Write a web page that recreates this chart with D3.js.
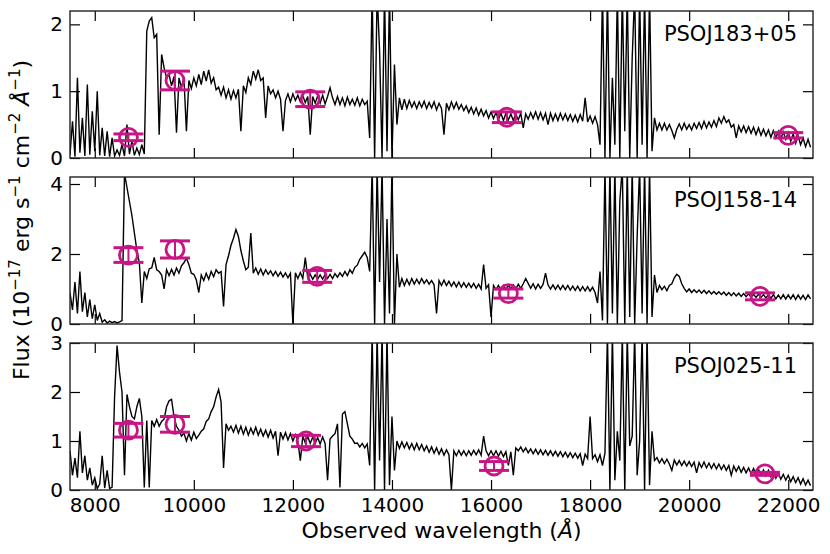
<!DOCTYPE html>
<html>
<head>
<meta charset="utf-8">
<script src="https://cdn.jsdelivr.net/npm/d3@7"></script>
<style>
  body { margin: 0; background: #fff; }
  text { font-family: "DejaVu Sans", sans-serif; fill: #000; }
</style>
</head>
<body>
<svg id="chart" width="830" height="554"></svg>
<script>
// spectra sampled every 50 A from 7500 A
const waveStart = 7500
const waveStep = 50

const flux183 = [
  0.05,0.55,0.02,1.2,0.08,0.6,0.03,1.1,0.05,0.7,0.1,1.0,0.04,0.45,0.03,0.4,0.02,0.3,0.03,0.12,
  0.04,0.2,0.03,0.5,0.06,0.25,0.04,0.15,0.05,0.2,0.06,1.9,2.05,2.1,1.8,1.85,0.35,1.55,1.35,1.2,
  1.25,1.08,1.22,0.38,1.2,1.06,1.2,0.4,1.16,1.04,1.2,1.08,1.25,1.1,1.3,1.15,1.32,1.12,1.2,1.02,
  1.06,0.94,1.06,0.9,1.02,0.88,1.01,0.9,1.03,0.4,1.08,0.98,1.2,1.1,1.3,1.18,1.32,1.16,1.2,0.6,
  1.08,0.96,1.02,0.9,1.0,0.88,0.4,0.86,0.96,0.84,0.96,0.86,0.94,0.84,0.93,0.83,0.92,0.35,0.92,0.82,
  0.93,0.82,0.94,0.81,0.92,1.05,0.9,0.8,0.92,0.8,0.9,0.78,0.91,0.8,0.88,0.79,0.9,0.78,0.88,0.8,
  0.85,0.3,2.5,0.0,2.5,1.6,0.0,2.5,0.1,2.5,0.0,1.4,0.5,0.9,0.72,0.88,0.74,0.86,0.76,0.84,
  0.74,0.84,0.76,0.85,0.74,0.83,0.75,0.84,0.72,0.82,0.74,0.35,0.82,0.72,0.84,0.74,0.83,0.73,0.8,0.71,
  0.78,0.68,0.76,0.66,0.75,0.64,0.73,0.63,0.71,0.6,0.69,0.59,0.68,0.58,0.67,0.56,0.67,0.57,0.66,0.56,
  0.66,0.57,0.67,0.45,0.66,0.58,0.68,0.59,0.69,0.58,0.68,0.57,0.67,0.5,0.67,0.56,0.66,0.56,0.67,0.57,
  0.66,0.56,0.65,0.55,0.64,0.54,0.65,0.55,0.9,0.54,0.63,0.52,0.62,0.5,0.2,2.5,0.0,2.5,0.0,1.2,
  0.2,2.5,0.0,2.5,0.4,2.5,0.0,1.5,2.5,0.0,2.5,0.2,2.5,0.0,2.5,0.1,0.6,0.42,0.52,0.42,
  0.52,0.42,0.5,0.41,0.3,0.43,0.51,0.42,0.52,0.43,0.5,0.42,0.52,0.44,0.53,0.44,0.55,0.45,0.54,0.46,
  0.56,0.47,0.6,0.52,0.62,0.53,0.57,0.46,0.5,0.3,0.48,0.39,0.48,0.38,0.47,0.37,0.46,0.35,0.45,0.34,
  0.43,0.33,0.42,0.31,0.41,0.3,0.4,0.29,0.39,0.28,0.38,0.25,0.36,0.22,0.33,0.2,0.3,0.17,0.28,0.16
]

const flux158 = [
  0.9,0.4,1.2,0.3,1.5,0.35,0.9,0.2,0.7,0.15,0.55,0.1,0.3,0.05,0.12,0.03,0.08,0.04,0.07,0.03,
  0.06,0.1,4.3,3.9,3.5,3.1,2.6,2.1,1.75,0.6,1.5,1.3,1.58,1.6,1.9,1.55,1.5,1.4,1.0,1.55,
  1.38,1.56,1.4,1.6,1.45,1.66,1.75,1.88,1.7,1.45,1.42,1.26,0.9,1.4,1.24,1.45,1.28,1.5,1.35,1.55,
  1.45,1.5,0.5,1.7,1.95,2.25,2.45,2.7,2.5,2.1,1.8,1.55,1.62,2.6,1.45,1.6,1.42,1.57,1.4,1.55,
  1.42,1.52,1.38,1.5,1.36,1.48,1.34,1.46,1.32,1.45,0.0,1.46,1.3,1.47,1.3,1.9,1.32,1.42,1.28,1.4,
  1.28,1.4,1.28,1.41,1.3,1.42,1.3,1.44,1.34,1.46,1.36,1.5,1.38,1.55,1.45,1.62,1.68,1.85,1.95,2.05,
  1.9,1.5,4.5,0.0,4.5,1.2,4.5,0.0,3.0,0.3,4.5,0.0,2.0,1.05,1.3,1.1,1.28,1.12,1.3,1.14,
  1.28,1.15,1.3,1.16,1.26,1.14,1.24,1.12,0.3,1.24,1.1,1.25,1.1,1.22,1.08,1.2,1.06,1.2,1.05,1.18,
  1.05,1.17,1.04,1.16,1.02,1.14,1.0,1.7,1.02,1.12,0.2,1.1,0.98,1.1,0.97,1.1,0.98,1.11,1.0,1.12,
  1.0,1.14,1.02,1.15,1.3,1.16,1.02,1.15,1.0,1.14,1.02,1.13,1.45,1.12,1.0,1.12,0.99,1.11,0.98,1.1,
  0.98,1.1,0.97,1.08,0.96,1.08,0.95,1.07,0.95,1.07,0.94,1.05,0.9,0.6,1.5,0.1,4.5,0.0,4.5,0.3,
  4.5,0.0,3.5,4.5,0.0,4.5,0.2,4.5,0.0,2.5,4.5,0.3,4.5,0.0,4.5,0.2,1.4,0.9,1.1,0.98,
  1.08,0.95,1.1,1.15,1.32,1.42,1.36,1.15,1.02,0.92,1.0,0.9,0.98,0.9,0.97,0.88,0.96,0.87,0.95,0.86,
  0.93,0.85,0.92,0.84,0.91,0.82,0.9,0.81,0.89,0.8,0.88,0.79,0.87,0.78,0.86,0.77,0.85,0.76,0.85,0.76,
  0.84,0.74,0.85,0.73,0.84,0.72,0.83,0.72,0.84,0.71,0.83,0.72,0.84,0.7,0.83,0.71,0.82,0.7,0.83,0.72
]

const flux025 = [
  0.8,0.3,0.65,0.25,1.2,0.35,0.7,0.2,0.45,0.1,0.25,0.03,0.12,0.7,0.04,0.4,0.03,0.06,1.9,2.95,
  2.4,2.0,0.3,1.95,1.7,1.5,1.45,1.7,1.87,1.5,0.05,1.42,0.05,1.42,1.3,1.44,1.3,1.4,1.45,1.7,
  1.82,1.85,1.5,1.3,1.22,1.1,1.16,1.0,1.15,1.02,1.18,1.05,1.12,1.2,1.25,1.4,1.45,1.6,1.7,1.9,
  2.05,1.8,0.45,1.35,1.22,1.3,1.18,1.32,1.16,1.3,1.14,1.28,1.12,1.26,1.14,1.28,1.12,1.24,1.1,1.22,
  1.08,1.22,1.06,1.2,0.7,1.18,1.04,1.17,1.02,1.15,1.0,1.13,0.99,0.6,1.1,0.96,1.09,0.95,1.08,0.95,
  1.07,0.94,1.08,0.95,0.2,1.04,1.1,1.15,1.35,0.05,1.55,1.6,1.35,1.1,1.04,0.95,0.96,0.88,0.95,0.86,
  0.94,0.5,3.2,0.0,3.2,0.6,3.2,0.0,3.2,0.1,1.5,0.4,1.0,0.85,0.98,0.86,0.97,0.84,0.95,0.82,
  0.95,0.82,0.93,0.8,0.9,0.77,0.88,0.75,0.86,0.73,0.84,0.71,0.82,0.72,0.0,0.8,0.7,0.81,0.71,0.8,
  0.7,0.8,0.71,0.81,0.72,0.82,0.71,1.1,0.8,0.7,0.8,0.7,0.8,0.69,0.79,0.68,0.78,0.5,0.78,0.3,
  0.86,0.8,0.88,0.78,0.86,0.76,0.84,0.74,0.83,0.73,0.82,0.72,0.81,0.71,0.8,0.7,0.79,0.69,0.78,0.68,
  0.77,0.67,0.76,0.66,0.75,0.65,0.74,0.5,0.73,0.64,1.5,0.64,0.72,0.58,0.72,0.5,0.75,3.2,0.0,3.2,
  0.2,1.2,0.6,3.2,0.0,3.2,0.9,1.1,3.2,0.3,1.0,3.2,0.0,3.2,0.1,1.2,0.6,0.66,0.55,0.64,
  0.54,0.63,0.53,0.4,0.61,0.51,0.6,0.5,0.59,0.49,0.58,0.48,0.57,0.35,0.56,0.46,0.57,0.45,0.55,0.44,
  0.54,0.43,0.53,0.42,0.51,0.4,0.5,0.3,0.49,0.38,0.48,0.36,0.46,0.35,0.45,0.33,0.44,0.31,0.42,0.3,
  0.41,0.29,0.4,0.27,0.37,0.24,0.35,0.22,0.32,0.2,0.3,0.17,0.27,0.15,0.25,0.12,0.23,0.1,0.2,0.09
]

// photometry (wavelength, flux, error)
const photWave183 = [8680, 9620, 12350, 16320, 22000]
const photFlux183 = [0.31, 1.16, 0.88, 0.61, 0.34]
const photErr183 = [0.05, 0.14, 0.11, 0.08, 0.04]

const photWave158 = [8680, 9620, 12490, 16350, 21430]
const photFlux158 = [1.97, 2.13, 1.36, 0.87, 0.79]
const photErr158 = [0.21, 0.245, 0.17, 0.13, 0.1]

const photWave025 = [8680, 9620, 12265, 16060, 21530]
const photFlux025 = [1.22, 1.34, 1.0, 0.49, 0.33]
const photErr025 = [0.14, 0.16, 0.115, 0.09, 0.03]

const names = ["PSOJ183+05", "PSOJ158-14", "PSOJ025-11"]
const yMax = [2.2, 4.2, 3]
const yTicks = [[0, 1, 2], [0, 2, 4], [0, 1, 2, 3]]
const xTicks = [8000, 10000, 12000, 14000, 16000, 18000, 20000, 22000]

const spectra = [flux183, flux158, flux025]
const phot = [
  { wave: photWave183, flux: photFlux183, err: photErr183 },
  { wave: photWave158, flux: photFlux158, err: photErr158 },
  { wave: photWave025, flux: photFlux025, err: photErr025 }
]

const svg = d3.select("#chart")
const left = 70, right = 813
const tops = [11, 177, 343]
const panelH = 147
const magenta = "#c71585"

const x = d3.scaleLinear().domain([7500, 22500]).range([left, right])

spectra.forEach((flux, p) => {
  const top = tops[p], bottom = top + panelH
  const y = d3.scaleLinear().domain([0, yMax[p]]).range([bottom, top])
  const g = svg.append("g")

  g.append("clipPath").attr("id", "clip" + p)
    .append("rect").attr("x", left).attr("y", top)
    .attr("width", right - left).attr("height", panelH)

  const pts = flux.map((f, i) => [waveStart + waveStep * i, f])
  g.append("path")
    .datum(pts)
    .attr("clip-path", `url(#clip${p})`)
    .attr("fill", "none")
    .attr("stroke", "#000")
    .attr("stroke-width", 1.4)
    .attr("d", d3.line().x(d => x(d[0])).y(d => y(d[1])))

  // photometry markers
  const ph = phot[p]
  const m = g.selectAll(".phot").data(ph.wave.map((w, i) => ({ w, f: ph.flux[i], e: ph.err[i] })))
    .enter().append("g")
  m.append("line")
    .attr("x1", d => x(d.w)).attr("x2", d => x(d.w))
    .attr("y1", d => y(d.f - d.e)).attr("y2", d => y(d.f + d.e))
    .attr("stroke", magenta).attr("stroke-width", 2)
  ;[-1, 1].forEach(s => {
    m.append("line")
      .attr("x1", d => x(d.w) - 15).attr("x2", d => x(d.w) + 15)
      .attr("y1", d => y(d.f + s * d.e)).attr("y2", d => y(d.f + s * d.e))
      .attr("stroke", magenta).attr("stroke-width", 3)
  })
  m.append("circle")
    .attr("cx", d => x(d.w)).attr("cy", d => y(d.f)).attr("r", 9)
    .attr("fill", "none").attr("stroke", magenta).attr("stroke-width", 2.8)

  // axes, ticks pointing inward on all four sides
  const fmt = d3.format("d")
  const axL = d3.axisLeft(y).tickValues(yTicks[p]).tickSize(-10).tickPadding(7).tickFormat(fmt)
  const axR = d3.axisRight(y).tickValues(yTicks[p]).tickSize(-10).tickFormat("")
  const axT = d3.axisTop(x).tickValues(xTicks).tickSize(-10).tickFormat("")
  const axB = d3.axisBottom(x).tickValues(xTicks).tickSize(-10).tickPadding(8)
    .tickFormat(p < 2 ? "" : fmt)

  const axes = [
    [axL, `translate(${left},0)`],
    [axR, `translate(${right},0)`],
    [axT, `translate(0,${top})`],
    [axB, `translate(0,${bottom})`]
  ]
  axes.forEach(([ax, tr]) => {
    const a = g.append("g").attr("transform", tr).call(ax)
    a.select(".domain").remove()
    a.selectAll("line").attr("stroke", "#000").attr("stroke-width", 1.2)
    a.selectAll("text").attr("font-size", 20).attr("font-family", "DejaVu Sans").attr("fill", "#000")
  })

  g.append("rect")
    .attr("x", left).attr("y", top)
    .attr("width", right - left).attr("height", panelH)
    .attr("fill", "none").attr("stroke", "#222").attr("stroke-width", 1.4)

  g.append("text")
    .attr("x", 797).attr("y", top + 30)
    .attr("text-anchor", "end")
    .attr("font-size", 21)
    .text(names[p])
})

// axis labels
svg.append("text")
  .attr("x", (left + right) / 2).attr("y", 538)
  .attr("text-anchor", "middle")
  .attr("font-size", 22)
  .html('Observed wavelength (<tspan font-style="italic">Å</tspan>)')

const yl = svg.append("text")
  .attr("transform", "translate(29,220) rotate(-90)")
  .attr("text-anchor", "middle")
  .attr("font-size", 22)
yl.append("tspan").text("Flux (10")
yl.append("tspan").attr("font-size", 15).attr("dy", -9).text("−17")
yl.append("tspan").attr("dy", 9).text(" erg s")
yl.append("tspan").attr("font-size", 15).attr("dy", -9).text("−1")
yl.append("tspan").attr("dy", 9).text(" cm")
yl.append("tspan").attr("font-size", 15).attr("dy", -9).text("−2")
yl.append("tspan").attr("dy", 9).attr("font-style", "italic").text(" Å")
yl.append("tspan").attr("font-size", 15).attr("dy", -9).text("−1")
yl.append("tspan").attr("dy", 9).text(")")
</script>
</body>
</html>
